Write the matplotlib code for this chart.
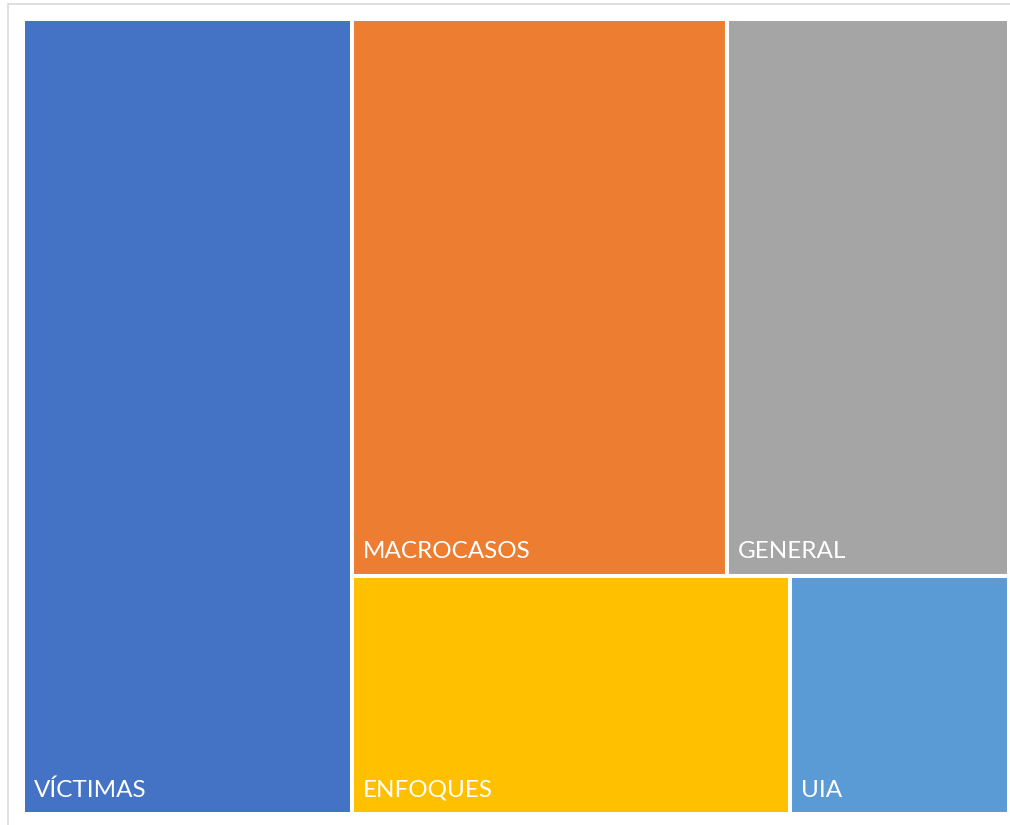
import matplotlib.pyplot as plt
from matplotlib.patches import Rectangle

labels = ["VÍCTIMAS", "MACROCASOS", "GENERAL", "ENFOQUES", "UIA"]
values = [5, 4, 3, 2, 1]
colors = ["#4472C4", "#ED7D31", "#A5A5A5", "#FFC000", "#5B9BD5"]

W, H = 1010, 825
fig = plt.figure(figsize=(W / 100, H / 100), dpi=100)

# light frame of the chart area (its right/bottom sides fall outside the picture)
fig.patches.append(Rectangle((8 / W, -0.1), 1.2, 1.1 - 4 / H, transform=fig.transFigure,
                             fill=False, edgecolor="#D9D9D9", linewidth=1.2))

ax = fig.add_axes([23 / W, 1 - 814 / H, 986 / W, 795 / H])
ax.set_xlim(0, 1)
ax.set_ylim(0, 1)
ax.axis("off")

# Excel-style layout: first item is a full-height column,
# the rest go in two rows (top: items 1-2, bottom: items 3-4)
total = sum(values)
rects = []
x0 = values[0] / total
rects.append((0, 0, x0, 1))
rest = total - values[0]
top = values[1] + values[2]
h_top = top / rest
x = x0
for v in values[1:3]:
    w = (1 - x0) * v / top
    rects.append((x, 1 - h_top, w, h_top))
    x += w
bot = values[3] + values[4]
x = x0
for v in values[3:5]:
    w = (1 - x0) * v / bot
    rects.append((x, 0, w, 1 - h_top))
    x += w

gap = 2.9  # points
for (rx, ry, rw, rh), lab, c in zip(rects, labels, colors):
    ax.add_patch(Rectangle((rx, ry), rw, rh, facecolor=c, edgecolor="white", linewidth=gap))
    ax.annotate(lab, (rx, ry), xytext=(11, 17), textcoords="offset pixels",
                color="white", fontsize=17.5, family="Lato", ha="left", va="baseline")

fig.savefig("out.png", dpi=100)
